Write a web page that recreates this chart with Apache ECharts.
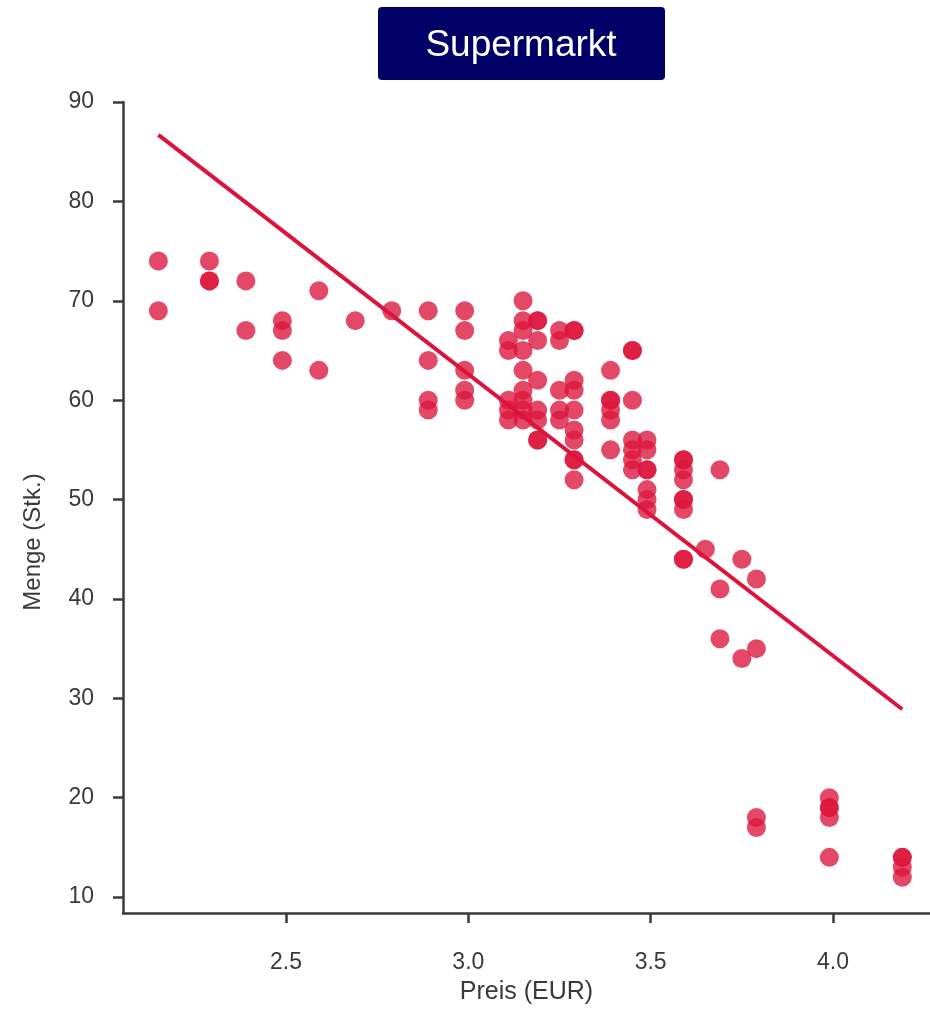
<!DOCTYPE html>
<html>
<head>
<meta charset="utf-8">
<script src="https://cdn.jsdelivr.net/npm/echarts@6/dist/echarts.min.js"></script>
<style>
  html, body { margin: 0; padding: 0; background: #fff; }
  #main { width: 930px; height: 1010px; }
</style>
</head>
<body>
<div id="main"></div>
<script>
// Preis (EUR) und Menge (Stk.) je Beobachtung
var price = [
  2.15, 2.15,
  2.29, 2.29, 2.29,
  2.39, 2.39,
  2.49, 2.49, 2.49,
  2.59, 2.59,
  2.69,
  2.79,
  2.89, 2.89, 2.89, 2.89,
  2.99, 2.99, 2.99, 2.99, 2.99,
  3.11, 3.11, 3.11, 3.11, 3.11,
  3.15, 3.15, 3.15, 3.15, 3.15, 3.15, 3.15, 3.15, 3.15,
  3.19, 3.19, 3.19, 3.19, 3.19, 3.19, 3.19, 3.19,
  3.25, 3.25, 3.25, 3.25, 3.25,
  3.29, 3.29, 3.29, 3.29, 3.29, 3.29, 3.29, 3.29, 3.29, 3.29,
  3.39, 3.39, 3.39, 3.39, 3.39, 3.39,
  3.45, 3.45, 3.45, 3.45, 3.45, 3.45, 3.45,
  3.49, 3.49, 3.49, 3.49, 3.49, 3.49, 3.49,
  3.59, 3.59, 3.59, 3.59, 3.59, 3.59, 3.59, 3.59, 3.59,
  3.65,
  3.69, 3.69, 3.69,
  3.75, 3.75,
  3.79, 3.79, 3.79, 3.79,
  3.99, 3.99, 3.99, 3.99, 3.99,
  4.19, 4.19, 4.19, 4.19
];
var qty = [
  74, 69,
  74, 72, 72,
  72, 67,
  68, 67, 64,
  71, 63,
  68,
  69,
  69, 64, 60, 59,
  69, 67, 63, 61, 60,
  66, 65, 60, 59, 58,
  70, 68, 67, 65, 63, 61, 60, 59, 58,
  68, 68, 66, 62, 59, 58, 56, 56,
  67, 66, 61, 59, 58,
  67, 67, 62, 61, 59, 57, 56, 54, 54, 52,
  63, 60, 60, 59, 58, 55,
  65, 65, 60, 56, 55, 54, 53,
  56, 55, 53, 53, 51, 50, 49,
  54, 54, 53, 52, 50, 50, 49, 44, 44,
  45,
  53, 41, 36,
  44, 34,
  42, 35, 18, 17,
  20, 19, 19, 18, 14,
  14, 14, 13, 12
];

// Regressionsgerade (Endpunkte)
var fitPrice = [2.15, 4.19];
var fitQty = [86.7, 28.9];

// Achsenbeschriftungen
var xTicks = [2.5, 3.0, 3.5, 4.0];
var yTicks = [10, 20, 30, 40, 50, 60, 70, 80, 90];

var points = [];
for (var i = 0; i < price.length; i++) {
    points.push([price[i], qty[i]]);
}
var fitLine = [];
for (var j = 0; j < fitPrice.length; j++) {
    fitLine.push([fitPrice[j], fitQty[j]]);
}

var axisColor = '#3a3a3a';
var fontFam = '"Liberation Sans", Arial, sans-serif';

var chart = echarts.init(document.getElementById('main'));
chart.setOption({
    animation: false,
    backgroundColor: '#ffffff',
    grid: {
        left: 123,
        right: 0,
        top: 102,
        bottom: 95
    },
    graphic: [
        {
            type: 'rect',
            shape: { x: 378, y: 7, width: 287, height: 73, r: 4 },
            style: { fill: '#000066' }
        },
        {
            type: 'text',
            x: 521,
            y: 46,
            style: {
                text: 'Supermarkt',
                fill: '#ffffff',
                font: '37px ' + fontFam,
                align: 'center',
                verticalAlign: 'middle'
            }
        },
        {
            type: 'text',
            x: 33,
            y: 542,
            rotation: Math.PI / 2,
            style: {
                text: 'Menge (Stk.)',
                fill: axisColor,
                font: '24px ' + fontFam,
                align: 'center',
                verticalAlign: 'middle'
            }
        }
    ],
    xAxis: {
        type: 'value',
        min: 2.053,
        max: 4.266,
        name: 'Preis (EUR)',
        nameLocation: 'middle',
        nameGap: 67,
        nameTextStyle: { color: axisColor, fontSize: 25, fontFamily: fontFam },
        splitLine: { show: false },
        axisLine: { show: true, lineStyle: { color: axisColor, width: 2.5 } },
        axisTick: {
            show: true,
            length: 10,
            customValues: xTicks,
            lineStyle: { color: axisColor, width: 2.5 }
        },
        axisLabel: {
            customValues: xTicks,
            margin: 38,
            color: axisColor,
            fontSize: 23,
            fontFamily: fontFam,
            formatter: function (v) { return v.toFixed(1); }
        }
    },
    yAxis: {
        type: 'value',
        min: 8.4,
        max: 90,
        splitLine: { show: false },
        axisLine: { show: true, lineStyle: { color: axisColor, width: 2.5 } },
        axisTick: {
            show: true,
            length: 10,
            customValues: yTicks,
            lineStyle: { color: axisColor, width: 2.5 }
        },
        axisLabel: {
            customValues: yTicks,
            margin: 29,
            color: axisColor,
            fontSize: 23,
            fontFamily: fontFam
        }
    },
    series: [
        {
            type: 'scatter',
            data: points,
            symbolSize: 19,
            itemStyle: { color: '#DC143C', opacity: 0.78 },
            z: 2
        },
        {
            type: 'line',
            data: fitLine,
            symbol: 'none',
            lineStyle: { color: '#DC143C', width: 4 },
            z: 3
        }
    ]
});
</script>
</body>
</html>
